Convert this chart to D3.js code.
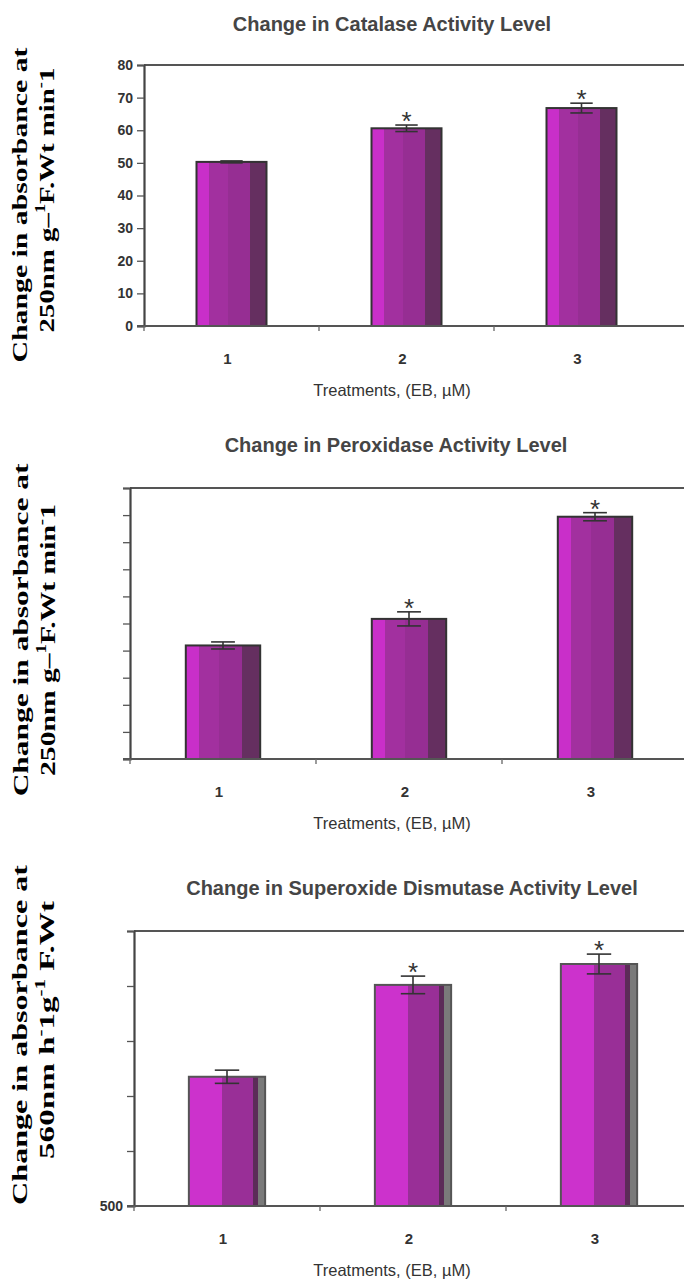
<!DOCTYPE html>
<html><head><meta charset="utf-8">
<script src="https://cdn.jsdelivr.net/npm/d3@7"></script>
<style>body{margin:0;background:#fff}svg{display:block}</style>
</head><body>
<svg id="c" width="684" height="1281"></svg>
<script>
// ---------- data ----------
const categories = ["1", "2", "3"];

const catalaseTitle = "Change in Catalase Activity Level";
const catalaseValues = [50.3, 60.6, 66.8];
const catalaseErrors = [0.3, 1.0, 1.5];
const catalaseSignificant = [false, true, true];
const catalaseTicks = [0, 10, 20, 30, 40, 50, 60, 70, 80];
const catalaseTickLabels = ["0", "10", "20", "30", "40", "50", "60", "70", "80"];

const peroxidaseTitle = "Change in Peroxidase Activity Level";
const peroxidaseValues = [4.19, 5.17, 8.94];
const peroxidaseErrors = [0.13, 0.26, 0.15];
const peroxidaseSignificant = [false, true, true];
const peroxidaseTicks = [0, 1, 2, 3, 4, 5, 6, 7, 8, 9, 10];
const peroxidaseTickLabels = ["", "", "", "", "", "", "", "", "", "", ""];

const sodTitle = "Change in Superoxide Dismutase Activity Level";
const sodValues = [735, 902, 940];
const sodErrors = [12, 16, 18];
const sodSignificant = [false, true, true];
const sodTicks = [500, 600, 700, 800, 900, 1000];
const sodTickLabels = ["500", "", "", "", "", ""];

const xAxisTitle = "Treatments, (EB, \u00b5M)";

// ---------- drawing ----------
const svg = d3.select("#c");
const W = 684;
const defs = svg.append("defs");

function gradient(id, stops) {
  const g = defs.append("linearGradient").attr("id", id)
    .attr("x1", "0").attr("x2", "1").attr("y1", "0").attr("y2", "0");
  stops.forEach(([a, b, c]) => {
    g.append("stop").attr("offset", a).attr("stop-color", c);
    g.append("stop").attr("offset", b).attr("stop-color", c);
  });
}
gradient("gA", [[0, 0.18, "#c92fc9"], [0.18, 0.45, "#a2309f"], [0.45, 0.76, "#962e93"], [0.76, 1, "#652f60"]]);
gradient("gB", [[0, 0.43, "#cc32cc"], [0.43, 0.84, "#992f97"], [0.84, 0.91, "#5c2b58"], [0.91, 1, "#7a7a7a"]]);

function yLabel(g, x, cy, len, parts) {
  const t = g.append("text")
    .attr("font-family", "'Liberation Serif', 'Times New Roman', serif")
    .attr("font-weight", "bold").attr("font-size", 22).attr("fill", "#000")
    .attr("text-anchor", "middle");
  parts.forEach(p => {
    const s = t.append("tspan").text(p.t);
    if (p.sup) s.attr("font-size", 14).attr("dy", -9);
    if (p.down) s.attr("dy", 9);
  });
  const nat = t.node().getComputedTextLength();
  t.attr("transform", `translate(${x},${cy}) rotate(-90) scale(${len / nat},1)`);
}

function chart(cfg) {
  const g = svg.append("g");
  const { x0, top, bottom, band, barFrac } = cfg;
  const x = d3.scaleBand().domain(categories)
    .range([x0, x0 + band * categories.length])
    .paddingInner(1 - barFrac).paddingOuter((1 - barFrac) / 2);
  const y = d3.scaleLinear().domain(cfg.domain).range([bottom, top]);

  // title
  g.append("text").attr("x", cfg.titleX).attr("y", cfg.titleY)
    .attr("text-anchor", "middle").attr("dominant-baseline", "middle")
    .attr("font-family", "'Liberation Sans', Arial, sans-serif")
    .attr("font-size", 20).attr("font-weight", "bold").attr("fill", "#454545").text(cfg.title);

  // frame
  g.append("line").attr("x1", x0).attr("x2", W + 5).attr("y1", top).attr("y2", top)
    .attr("stroke", "#555").attr("stroke-width", 2);

  // bars
  const data = categories.map((c, i) => ({ c, v: cfg.values[i], e: cfg.errors[i], s: cfg.sig[i] }));
  g.selectAll("rect.bar").data(data).join("rect").attr("class", "bar")
    .attr("x", d => x(d.c)).attr("width", x.bandwidth())
    .attr("y", d => y(d.v)).attr("height", d => bottom - y(d.v))
    .attr("fill", `url(#${cfg.grad})`).attr("stroke", cfg.barStroke).attr("stroke-width", 2);

  // error bars
  const cap = x.bandwidth() * 0.32;
  data.forEach(d => {
    const cx = x(d.c) + x.bandwidth() / 2;
    const eg = g.append("g").attr("stroke", "#333").attr("stroke-width", 1.6);
    eg.append("line").attr("x1", cx).attr("x2", cx).attr("y1", y(d.v + d.e)).attr("y2", y(d.v - d.e));
    eg.append("line").attr("x1", cx - cap / 2).attr("x2", cx + cap / 2).attr("y1", y(d.v + d.e)).attr("y2", y(d.v + d.e));
    eg.append("line").attr("x1", cx - cap / 2).attr("x2", cx + cap / 2).attr("y1", y(d.v - d.e)).attr("y2", y(d.v - d.e));
    if (d.s) {
      g.append("text").attr("x", cx).attr("y", y(d.v + d.e) + 5)
        .attr("text-anchor", "middle").attr("font-family", "'Liberation Sans', Arial, sans-serif")
        .attr("font-size", 26).attr("fill", "#333").text("*");
    }
  });

  // y axis
  const ya = g.append("g").attr("transform", `translate(${x0},0)`)
    .call(d3.axisLeft(y).tickValues(cfg.ticks)
      .tickFormat((d, i) => cfg.tickLabels[i]).tickSize(7).tickPadding(4));
  ya.select(".domain").attr("stroke", "#444").attr("stroke-width", 2.2);
  ya.selectAll(".tick line").attr("stroke", "#555").attr("stroke-width", 1.3);
  ya.selectAll(".tick text").attr("font-family", "'Liberation Sans', Arial, sans-serif")
    .attr("font-size", 14).attr("font-weight", "bold").attr("fill", "#333");

  // x axis
  g.append("line").attr("x1", x0 - 7).attr("x2", W + 5).attr("y1", bottom).attr("y2", bottom)
    .attr("stroke", "#555").attr("stroke-width", 2.2);
  const step = x.step();
  d3.range(categories.length).forEach(i => {
    const tx = x.range()[0] + i * step;
    g.append("line").attr("x1", tx).attr("x2", tx).attr("y1", bottom).attr("y2", bottom + 5)
      .attr("stroke", "#666").attr("stroke-width", 1.3);
  });
  g.selectAll("text.cat").data(categories).join("text").attr("class", "cat")
    .attr("x", d => x(d) + x.bandwidth() / 2 - 4).attr("y", bottom + 34)
    .attr("text-anchor", "middle").attr("dominant-baseline", "middle")
    .attr("font-family", "'Liberation Sans', Arial, sans-serif")
    .attr("font-size", 15).attr("font-weight", "bold").attr("fill", "#333").text(d => d);
  g.append("text").attr("x", cfg.axisTitleX).attr("y", bottom + 66)
    .attr("text-anchor", "middle").attr("dominant-baseline", "middle")
    .attr("font-family", "'Liberation Sans', Arial, sans-serif")
    .attr("font-size", 16.5).attr("fill", "#333").text(xAxisTitle);

  // y label
  yLabel(g, cfg.l1x, cfg.l1y, cfg.l1len, cfg.line1);
  yLabel(g, cfg.l2x, cfg.l2y, cfg.l2len, cfg.line2);
}

const line1 = [{ t: "Change in absorbance at" }];
const line2ab = [{ t: "250nm g\u2013" }, { t: "1", sup: true }, { t: "F.Wt min", down: true }, { t: "-", sup: true }, { t: "1", down: true }];
const line2c = [{ t: "560nm h" }, { t: "-", sup: true }, { t: "1g", down: true }, { t: "-1", sup: true }, { t: " F.Wt", down: true }];

chart({
  title: catalaseTitle, titleX: 392, titleY: 26,
  x0: 144, top: 65, bottom: 326, band: 175, barFrac: 0.4,
  domain: [0, 80], ticks: catalaseTicks, tickLabels: catalaseTickLabels,
  values: catalaseValues, errors: catalaseErrors, sig: catalaseSignificant,
  grad: "gA", barStroke: "#333", axisTitleX: 392,
  l1x: 27, l1y: 205, l1len: 315, line1: line1,
  l2x: 54, l2y: 200, l2len: 265, line2: line2ab
});
chart({
  title: peroxidaseTitle, titleX: 396, titleY: 447,
  x0: 130, top: 488, bottom: 759, band: 186, barFrac: 0.4,
  domain: [0, 10], ticks: peroxidaseTicks, tickLabels: peroxidaseTickLabels,
  values: peroxidaseValues, errors: peroxidaseErrors, sig: peroxidaseSignificant,
  grad: "gA", barStroke: "#333", axisTitleX: 392,
  l1x: 28, l1y: 630, l1len: 333, line1: line1,
  l2x: 55, l2y: 640, l2len: 272, line2: line2ab
});
chart({
  title: sodTitle, titleX: 412, titleY: 890,
  x0: 134, top: 931, bottom: 1206, band: 186, barFrac: 0.41,
  domain: [500, 1000], ticks: sodTicks, tickLabels: sodTickLabels,
  values: sodValues, errors: sodErrors, sig: sodSignificant,
  grad: "gB", barStroke: "#555", axisTitleX: 392,
  l1x: 27, l1y: 1035, l1len: 340, line1: line1,
  l2x: 54, l2y: 1030, l2len: 258, line2: line2c
});
</script>
</body></html>
